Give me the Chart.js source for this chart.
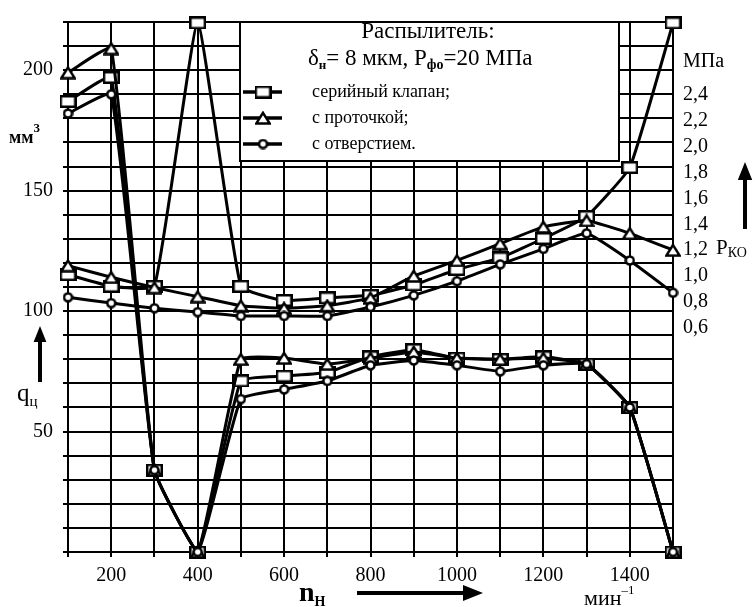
<!DOCTYPE html>
<html lang="ru">
<head>
<meta charset="UTF-8">
<title>qц и Pко от nн</title>
<script src="https://cdn.jsdelivr.net/npm/chart.js"></script>
<style>
  body { margin: 0; background: #fff; }
  #wrap { width: 755px; height: 607px; }
</style>
</head>
<body>
<div id="wrap"><canvas id="chart" width="755" height="607"></canvas></div>
<script>
// частота вращения, мин-1
const rpm = [100, 200, 300, 400, 500, 600, 700, 800, 900, 1000, 1100, 1200, 1300, 1400, 1500];

// цикловая подача qц, мм3 (левая шкала)
const qSerial = [187, 197, 34, 0, 71, 73, 74.5, 81, 84, 80.5, 80, 81, 78, 60, 0];
const qGroove = [199, 209, 34, 0, 80, 80.5, 78, 80.5, 83, 80.5, 80, 80.5, 78, 60, 0];
const qHole   = [182, 190, 34, 0, 63.5, 67.5, 71, 77.5, 79.5, 77.5, 75, 77.5, 78, 60, 0];

// давление начала подъёма иглы Pко, МПа (правая шкала)
const pSerial = [1.01, 0.92, 0.92, 2.96, 0.92, 0.81, 0.83, 0.85, 0.93, 1.05, 1.14, 1.29, 1.46, 1.84, 2.96];
const pGroove = [1.08, 0.99, 0.91, 0.84, 0.77, 0.75, 0.77, 0.83, 1.00, 1.12, 1.25, 1.38, 1.43, 1.33, 1.20];
const pHole   = [0.835, 0.79, 0.75, 0.72, 0.69, 0.69, 0.69, 0.76, 0.85, 0.96, 1.09, 1.21, 1.33, 1.12, 0.87];

const xLabels = [200, 400, 600, 800, 1000, 1200, 1400];
const qLabels = [50, 100, 150, 200];
const pLabels = [0.6, 0.8, 1.0, 1.2, 1.4, 1.6, 1.8, 2.0, 2.2, 2.4];
const seriesNames = ['серийный клапан;', 'с проточкой;', 'с отверстием.'];

const serif = '"Liberation Serif", "DejaVu Serif", serif';

// маркеры точек
function marker(kind) {
  const c = document.createElement('canvas');
  if (kind === 'square') { c.width = 17; c.height = 13; }
  else if (kind === 'triangle') { c.width = 16; c.height = 14; }
  else { c.width = 11; c.height = 11; }
  const g = c.getContext('2d');
  g.fillStyle = '#fff';
  g.strokeStyle = '#000';
  g.lineWidth = 2.5;
  g.beginPath();
  if (kind === 'square') g.rect(1.25, 1.25, 14.5, 10.5);
  else if (kind === 'triangle') { g.moveTo(8, 1.8); g.lineTo(14.8, 12.6); g.lineTo(1.2, 12.6); g.closePath(); }
  else g.arc(5.5, 5.5, 4, 0, Math.PI * 2);
  g.fill();
  g.stroke();
  return c;
}
const markers = { square: marker('square'), triangle: marker('triangle'), circle: marker('circle') };

function series(values, kind, axis) {
  return {
    data: rpm.map((x, i) => ({ x: x, y: values[i] })),
    yAxisID: axis,
    borderColor: '#000',
    borderWidth: 3,
    pointStyle: markers[kind],
    pointRadius: 6,
    tension: 0.12,
    clip: false,
    fill: false
  };
}

function runs(ctx, x, y, parts) {
  parts.forEach(p => {
    ctx.font = p[2] + ' ' + p[1] + 'px ' + serif;
    ctx.fillText(p[0], x, y + p[3]);
    x += ctx.measureText(p[0]).width;
  });
}

function arrow(ctx, x1, y1, x2, y2, head, w) {
  const a = Math.atan2(y2 - y1, x2 - x1);
  ctx.lineWidth = w;
  ctx.beginPath();
  ctx.moveTo(x1, y1);
  ctx.lineTo(x2 - Math.cos(a) * head, y2 - Math.sin(a) * head);
  ctx.stroke();
  ctx.beginPath();
  ctx.moveTo(x2, y2);
  ctx.lineTo(x2 - Math.cos(a) * head - Math.sin(a) * head * 0.4, y2 - Math.sin(a) * head + Math.cos(a) * head * 0.4);
  ctx.lineTo(x2 - Math.cos(a) * head + Math.sin(a) * head * 0.4, y2 - Math.sin(a) * head - Math.cos(a) * head * 0.4);
  ctx.closePath();
  ctx.fill();
}

const decor = {
  id: 'decor',
  beforeDatasetsDraw(chart) {
    const ctx = chart.ctx;
    const top = chart.chartArea.top;
    ctx.save();
    // рамка с пояснениями
    ctx.fillStyle = '#fff';
    ctx.strokeStyle = '#000';
    ctx.lineWidth = 2;
    ctx.fillRect(240, top, 379, 139);
    ctx.strokeRect(240, top, 379, 139);
    ctx.fillStyle = '#000';
    ctx.textBaseline = 'alphabetic';
    ctx.textAlign = 'center';
    ctx.font = '23px ' + serif;
    ctx.fillText('Распылитель:', 428, 38);
    ctx.textAlign = 'left';
    runs(ctx, 308, 65, [['δ', 23, 'normal', 0], ['н', 13, 'bold', 4], ['= 8 мкм, Р', 23, 'normal', 0], ['фо', 14, 'bold', 4], ['=20 МПа', 23, 'normal', 0]]);
    const kinds = ['square', 'triangle', 'circle'];
    const rows = [97, 123, 149];
    seriesNames.forEach((name, i) => {
      const yy = rows[i] - 5;
      ctx.lineWidth = 3.5;
      ctx.beginPath();
      ctx.moveTo(243, yy);
      ctx.lineTo(282, yy);
      ctx.stroke();
      const m = markers[kinds[i]];
      ctx.drawImage(m, 263 - m.width / 2, yy - m.height / 2);
      ctx.font = '18px ' + serif;
      ctx.fillText(name, 312, rows[i]);
    });
    ctx.restore();
  },
  afterDraw(chart) {
    const ctx = chart.ctx;
    ctx.save();
    ctx.fillStyle = '#000';
    ctx.strokeStyle = '#000';
    ctx.textAlign = 'left';
    // левая шкала
    runs(ctx, 9, 143, [['мм', 18, 'bold', 0], ['3', 13, 'bold', -11]]);
    arrow(ctx, 40, 382, 40, 326, 16, 4);
    runs(ctx, 17, 401, [['q', 25, 'normal', 0], ['ц', 15, 'normal', 5]]);
    // правая шкала
    ctx.font = '20px ' + serif;
    ctx.fillText('МПа', 683, 67);
    arrow(ctx, 745, 229, 745, 162, 18, 4);
    runs(ctx, 716, 254, [['P', 21, 'normal', 0], ['КО', 14, 'normal', 3]]);
    // ось абсцисс
    runs(ctx, 299, 601, [['n', 28, 'bold', 0], ['H', 14, 'bold', 5]]);
    arrow(ctx, 357, 593, 483, 593, 20, 4);
    runs(ctx, 584, 605, [['мин', 22, 'normal', 0], ['–1', 13, 'normal', -11]]);
    ctx.restore();
  }
};

const gridQ = [];
for (let v = 0; v <= 220; v += 10) gridQ.push(v);

const axisFont = { family: serif, size: 20 };

new Chart(document.getElementById('chart'), {
  type: 'line',
  data: {
    datasets: [
      series(qHole, 'circle', 'y'),
      series(pHole, 'circle', 'y2'),
      series(qGroove, 'triangle', 'y'),
      series(pGroove, 'triangle', 'y2'),
      series(qSerial, 'square', 'y'),
      series(pSerial, 'square', 'y2')
    ]
  },
  options: {
    responsive: false,
    animation: false,
    events: [],
    layout: { autoPadding: false, padding: { top: 16, left: 0, right: 0, bottom: 0 } },
    plugins: { legend: { display: false }, tooltip: { enabled: false } },
    scales: {
      x: {
        type: 'linear',
        min: 100,
        max: 1500,
        afterBuildTicks: s => { s.ticks = rpm.map(v => ({ value: v })); },
        afterFit: s => { s.height = 55; },
        ticks: {
          autoSkip: false, maxRotation: 0, padding: 7, color: '#000', font: axisFont,
          callback: v => xLabels.includes(v) ? String(v) : ''
        },
        grid: { color: '#000', lineWidth: 2, tickLength: 5 },
        border: { color: '#000', width: 2 }
      },
      y: {
        min: 0,
        max: 220,
        afterBuildTicks: s => { s.ticks = gridQ.map(v => ({ value: v })); },
        afterFit: s => { s.width = 68; },
        ticks: {
          autoSkip: false, padding: 10, color: '#000', font: axisFont,
          callback: v => qLabels.includes(v) ? String(v) : ''
        },
        grid: { color: '#000', lineWidth: 2, tickLength: 5 },
        border: { color: '#000', width: 2 }
      },
      y2: {
        position: 'right',
        min: -1.138,
        max: 2.967,
        afterBuildTicks: s => { s.ticks = pLabels.map(v => ({ value: v })); },
        afterFit: s => { s.width = 82; },
        ticks: {
          autoSkip: false, padding: 10, color: '#000', font: axisFont,
          callback: v => v.toFixed(1).replace('.', ',')
        },
        grid: { drawOnChartArea: false, drawTicks: false },
        border: { display: false }
      }
    }
  },
  plugins: [decor]
});
</script>
</body>
</html>
